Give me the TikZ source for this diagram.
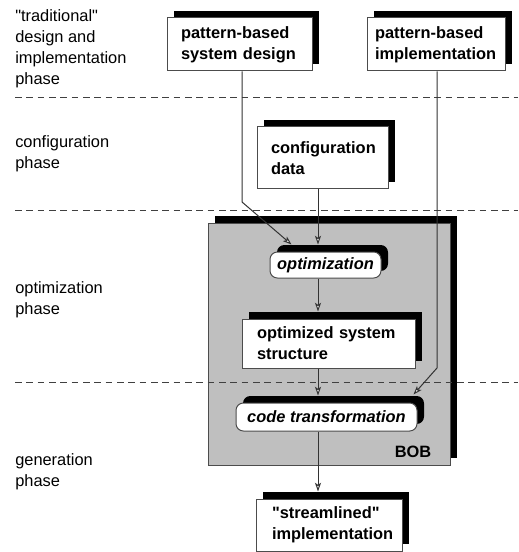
\documentclass[tikz,border=0pt]{standalone}
\usepackage{fontspec}
\setmainfont{Liberation Sans}[Ligatures=TeXOff]
\usetikzlibrary{arrows.meta,shadows,calc}
\hyphenpenalty=10000
\exhyphenpenalty=10000
\begin{document}
\begin{tikzpicture}[x=0.75pt,y=-0.75pt,
  phasetxt/.style={font=\fontsize{12.3pt}{15.75pt}\selectfont, align=left, inner sep=0pt, anchor=base west},
  shadowed/.style={general shadow={fill=black, shadow xshift=5.25pt, shadow yshift=5.25pt}},
  box/.style={shadowed, draw=black!70, line width=0.75pt, fill=white,
    font=\fontsize{12.3pt}{15.75pt}\selectfont\bfseries, align=left, inner ysep=0pt},
  act/.style={box, rounded corners=5.5pt, font=\fontsize{12.3pt}{15.75pt}\selectfont\bfseries\itshape,
    align=center, inner xsep=0pt},
  flow/.style={draw=black!80, line width=0.75pt, -{Stealth[fill=white, length=6.5pt, width=4.5pt, inset=1.5pt]}},
  phaseline/.style={draw=black!75, line width=0.75pt, dash pattern=on 5pt off 3.5pt}
]
\useasboundingbox (0,0) rectangle (518,552);

% phase labels (anchored at the baseline of their last line)
\node[phasetxt] (l1) at (15,85) {"traditional"\\design and\\implementation\\phase};
\node[phasetxt] (l2) at (15,169) {configuration\\phase};
\node[phasetxt] (l3) at (15,314) {optimization\\phase};
\node[phasetxt] (l4) at (15,486) {generation\\phase};

% BOB container
\node[shadowed, draw=black!70, line width=0.75pt, fill=black!25,
  minimum width=181.5pt, minimum height=181.5pt, inner sep=0pt] (bob) at (329,344) {};
\node[font=\fontsize{12.3pt}{15.75pt}\selectfont\bfseries, inner sep=0pt] (boblabel) at (413,452) {BOB};

% phase separators
\draw[phaseline] (15,98) -- (518,98);
\draw[phaseline] (15,210) -- (518,210);
\draw[phaseline] (15,382) -- (518,382);

% boxes
\node[box, minimum width=108.75pt, minimum height=39.75pt, inner xsep=10.5pt, text width=87.75pt]
  (sd) at (239.5,44.5) {pattern-based\\system design};
\node[box, minimum width=103.5pt, minimum height=39.75pt, inner xsep=6pt, text width=91.5pt]
  (pi) at (436,44.5) {pattern-based\\implementation};
\node[box, minimum width=98.25pt, minimum height=46.5pt, inner xsep=10.5pt, text width=77.25pt]
  (cd) at (322.5,158) {configuration\\data};
\node[act, minimum width=83.25pt, minimum height=19.5pt] (opt) at (325.5,265) {optimization};
\node[box, minimum width=129.75pt, minimum height=36.75pt, inner xsep=11.25pt, text width=107.25pt]
  (oss) at (328.5,343.5) {optimized system\\structure};
\node[act, minimum width=135.75pt, minimum height=21pt] (ct) at (326.5,417) {code transformation};
\node[box, minimum width=109.5pt, minimum height=39pt, inner xsep=12pt, text width=85.5pt]
  (si) at (329,525) {"streamlined"\\implementation};

% connectors
\coordinate (col) at (318,0);
\coordinate (k1) at (242,202);
\coordinate (k2) at (437,368);
\draw[flow] (cd.south -| col) -- ($(opt.north -| col)+(0,-7)$);
\draw[flow] (opt.south -| col) -- ($(oss.north -| col)+(0,-7)$);
\draw[flow] (oss.south -| col) -- ($(ct.north -| col)+(0,-7)$);
\draw[flow] (ct.south -| col) -- ($(si.north -| col)+(0,-7)$);
\draw[flow] (sd.south -| k1) -- (k1) -- ($(opt.north west)+(22,-7)$);
\draw[flow] (pi.south -| k2) -- (k2) -- ($(ct.north east)+(-4,-8)$);
\end{tikzpicture}
\end{document}
